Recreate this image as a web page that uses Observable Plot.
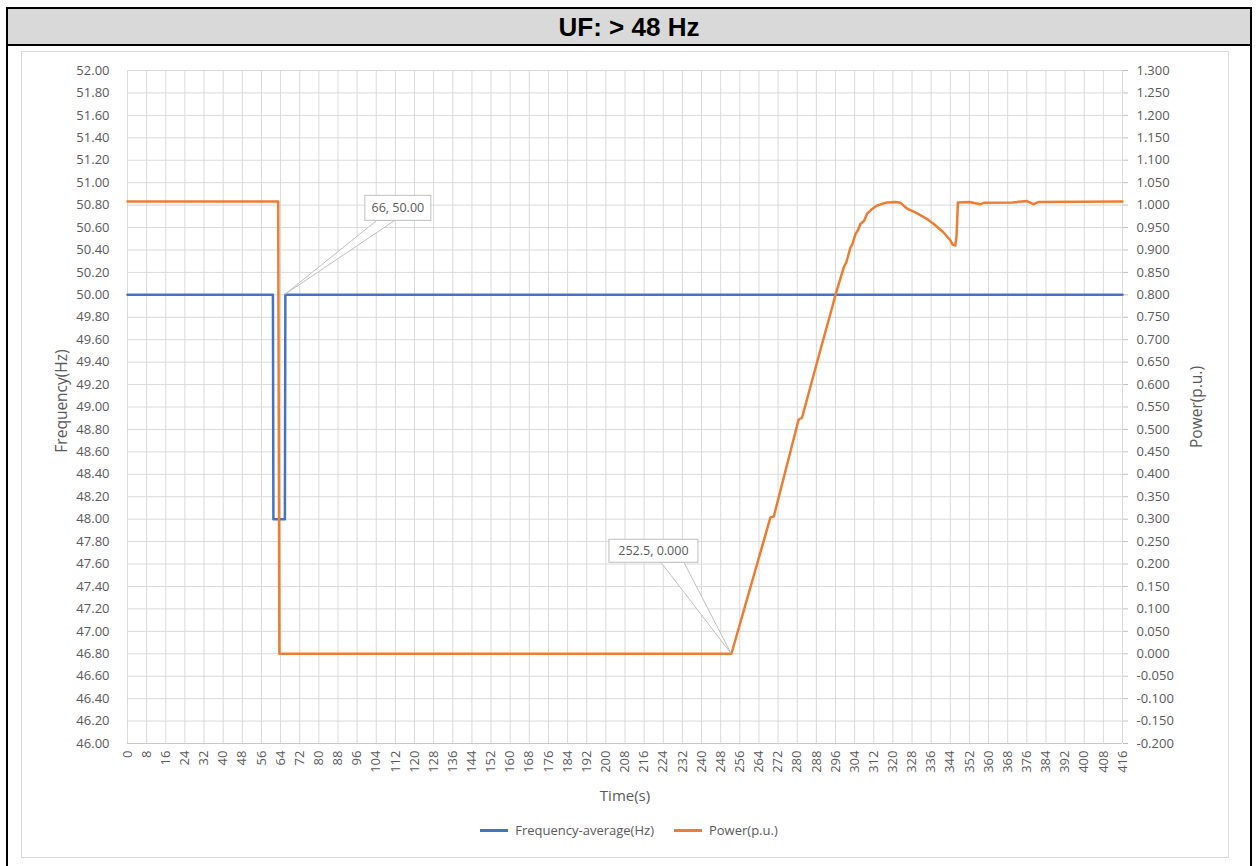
<!DOCTYPE html>
<html>
<head>
<meta charset="utf-8">
<script src="https://cdn.jsdelivr.net/npm/d3@7"></script>
<script src="https://cdn.jsdelivr.net/npm/@observablehq/plot@0.6"></script>
<style>
  html, body { margin: 0; padding: 0; background: #fff; width: 1258px; height: 866px; overflow: hidden; }
  #frame { position: absolute; left: 6px; top: 7px; width: 1246px; height: 900px; border: 2px solid #000; box-sizing: border-box; }
  #titleband { position: absolute; left: 8px; top: 9px; width: 1242px; height: 35px; background: #d9d9d9; border-bottom: 2px solid #000; 
    font-family: "Liberation Sans", Arial, sans-serif; font-weight: bold; font-size: 26px; line-height: 36px; text-align: center; color: #000; }
  #chartbox { position: absolute; left: 21px; top: 51px; width: 1208px; height: 807px; border: 1px solid #d9d9d9; box-sizing: border-box; }
  #plot { position: absolute; left: 22px; top: 53px; }
  #legend { position: absolute; left: 0; top: 821px; width: 1258px; display: flex; justify-content: center; align-items: center;
    font-family: "Open Sans", sans-serif; font-size: 13px; color: #595959; }
  .item { display: flex; align-items: center; margin: 0 10px; }
  .sw { width: 28px; height: 3px; margin-right: 7px; }
</style>
</head>
<body>
<div id="frame"></div>
<div id="titleband">UF: &gt; 48 Hz</div>
<div id="chartbox"></div>
<div id="plot"></div>
<div id="legend"></div>
<script>
// ---- Data ----
const seriesNames = ["Frequency-average(Hz)", "Power(p.u.)"];
const seriesColors = ["#4472C4", "#ED7D31"];

const freqTime  = [0, 60.8, 61.0, 65.8, 66.0, 416];
const freqValue = [50.00, 50.00, 48.00, 48.00, 50.00, 50.00];

const powerTime  = [0, 63.0, 63.5, 252.5, 268.8, 270.2, 280.6, 282.0, 290.4, 294.0, 296.0, 299.5, 300.5, 302.3, 303.0, 304.4, 305.5, 306.4, 308.0, 309.2, 311.0, 313.4, 317.6, 321.0, 323.2, 326.0, 330.0, 334.0, 337.1, 341.0, 344.1, 345.0, 346.1, 346.6, 347.2, 352.0, 356.6, 358.0, 370.0, 376.0, 378.8, 381.0, 416];
const powerValue = [1.008, 1.008, 0.000, 0.000, 0.304, 0.306, 0.522, 0.526, 0.691, 0.760, 0.800, 0.862, 0.872, 0.906, 0.912, 0.936, 0.945, 0.958, 0.965, 0.981, 0.990, 0.999, 1.006, 1.007, 1.005, 0.992, 0.982, 0.970, 0.958, 0.940, 0.921, 0.912, 0.910, 0.930, 1.006, 1.007, 1.002, 1.005, 1.006, 1.009, 1.002, 1.007, 1.008];

const xTicks = d3.range(0, 417, 8);
const freqTicks = [46.0, 46.2, 46.4, 46.6, 46.8, 47.0, 47.2, 47.4, 47.6, 47.8, 48.0, 48.2, 48.4, 48.6, 48.8, 49.0, 49.2, 49.4, 49.6, 49.8, 50.0, 50.2, 50.4, 50.6, 50.8, 51.0, 51.2, 51.4, 51.6, 51.8, 52.0];
const powerTicks = [-0.20, -0.15, -0.10, -0.05, 0.00, 0.05, 0.10, 0.15, 0.20, 0.25, 0.30, 0.35, 0.40, 0.45, 0.50, 0.55, 0.60, 0.65, 0.70, 0.75, 0.80, 0.85, 0.90, 0.95, 1.00, 1.05, 1.10, 1.15, 1.20, 1.25, 1.30];

const annotTime   = [66, 252.5];
const annotValue  = [50.00, 0.000];
const annotSeries = ["freq", "power"];
const annotLabel  = ["66, 50.00", "252.5, 0.000"];

// ---- Build ----
const toF = p => 46 + (p + 0.2) * 4;   // secondary axis (power) mapped onto the frequency scale
const freqData = freqTime.map((t, i) => ({t, v: freqValue[i]}));
const powerData = powerTime.map((t, i) => ({t, p: powerValue[i]}));

const W = 1206, H = 760, mL = 105, mR = 106, mT = 17, mB = 70;
const gridColor = "#d9d9d9", textColor = "#595959";

const plot = Plot.plot({
  width: W, height: H,
  marginLeft: mL, marginRight: mR, marginTop: mT, marginBottom: mB,
  style: {fontFamily: "'Open Sans', sans-serif", fontSize: "13px", color: textColor, background: "transparent", overflow: "visible"},
  x: {domain: [0, 416]},
  y: {domain: [46, 52]},
  marks: [
    Plot.gridX(xTicks, {stroke: gridColor, strokeOpacity: 1, strokeWidth: 1}),
    Plot.gridY(freqTicks, {stroke: gridColor, strokeOpacity: 1, strokeWidth: 1}),
    Plot.ruleY([46], {stroke: "#c8c8c8"}),
    Plot.axisX(xTicks, {tickSize: 0, tickRotate: -90, tickPadding: 7, label: null, tickFormat: d => String(d)}),
    Plot.axisY(freqTicks, {anchor: "left", tickSize: 0, tickPadding: 18, label: null, tickFormat: d => d.toFixed(2)}),
    Plot.axisY(powerTicks.map(toF), {anchor: "right", tickSize: 5, tickPadding: 9, stroke: "#bfbfbf", label: null,
      tickFormat: f => (Math.round(((f - 46) / 4 - 0.2) * 1000) / 1000 + 0).toFixed(3)}),
    Plot.text(["Time(s)"], {frameAnchor: "bottom", dy: 57, fontSize: 15, fill: textColor, textAnchor: "middle"}),
    Plot.text(["Frequency(Hz)"], {frameAnchor: "left", dx: -65, dy: -6, rotate: -90, fontSize: 15.5, fill: textColor, textAnchor: "middle"}),
    Plot.text(["Power(p.u.)"], {frameAnchor: "right", dx: 75, dy: 0, rotate: -90, fontSize: 15.5, fill: textColor, textAnchor: "middle"}),
    Plot.line(freqData, {x: "t", y: "v", stroke: seriesColors[0], strokeWidth: 2.5}),
    Plot.line(powerData, {x: "t", y: d => toF(d.p), stroke: seriesColors[1], strokeWidth: 2.5})
  ]
});

// ---- Data callouts anchored through the plot's scales ----
const sx = plot.scale("x"), sy = plot.scale("y");
const svg = d3.select(plot);
// box geometry relative to anchor: [left, right, top, bottom, wedgeBase1, wedgeBase2]
const calloutGeom = [[80, 146, -99, -74, 92, 110], [-122, -33, -114, -91, -70, -47]];
annotTime.forEach((t, i) => {
  const v = annotSeries[i] === "freq" ? annotValue[i] : toF(annotValue[i]);
  const ax = sx.apply(t), ay = sy.apply(v);
  const [l, r, tp, b, w1, w2] = calloutGeom[i];
  const g = svg.append("g");
  g.append("polygon")
    .attr("points", `${ax + w1},${ay + b} ${ax},${ay} ${ax + w2},${ay + b}`)
    .attr("fill", "#fff").attr("stroke", "#bfbfbf").attr("stroke-width", 1);
  g.append("rect")
    .attr("x", ax + l).attr("y", ay + tp).attr("width", r - l).attr("height", b - tp)
    .attr("fill", "#fff").attr("stroke", "#bfbfbf").attr("stroke-width", 1);
  g.append("text")
    .attr("x", ax + (l + r) / 2).attr("y", ay + (tp + b) / 2)
    .attr("text-anchor", "middle").attr("dominant-baseline", "central")
    .attr("font-family", "'Open Sans', sans-serif").attr("font-size", 12.5).attr("fill", textColor)
    .text(annotLabel[i]);
});

document.getElementById("plot").appendChild(plot);

// ---- Legend ----
const legend = document.getElementById("legend");
seriesNames.forEach((name, i) => {
  const item = document.createElement("div"); item.className = "item";
  const sw = document.createElement("div"); sw.className = "sw"; sw.style.background = seriesColors[i];
  const tx = document.createElement("span"); tx.textContent = name;
  item.appendChild(sw); item.appendChild(tx); legend.appendChild(item);
});
</script>
</body>
</html>
